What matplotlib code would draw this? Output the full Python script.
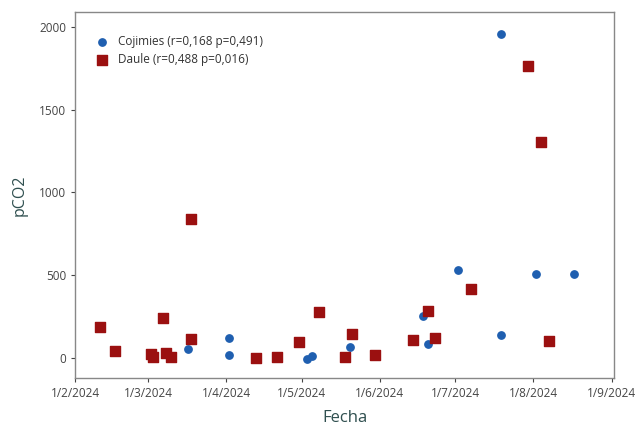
import matplotlib

matplotlib.use("Agg")
import matplotlib.pyplot as plt
import numpy as np

plt.rcParams["font.family"] = ["Open Sans", "DejaVu Sans"]

# Cojimies (blue)
coj_dates = ["2024-03-17", "2024-04-02", "2024-04-02", "2024-05-03", "2024-05-05",
             "2024-05-20", "2024-06-18", "2024-06-20", "2024-07-02", "2024-07-19",
             "2024-07-19", "2024-08-02", "2024-08-17"]
coj_pco2 = [54, 120, 18, -5, 12, 66, 253, 84, 530, 1958, 138, 506, 506]

# Daule (red)
dau_dates = ["2024-02-11", "2024-02-17", "2024-03-02", "2024-03-03", "2024-03-07",
             "2024-03-08", "2024-03-10", "2024-03-18", "2024-03-18", "2024-04-13",
             "2024-04-21", "2024-04-30", "2024-05-08", "2024-05-18", "2024-05-21",
             "2024-05-30", "2024-06-14", "2024-06-20", "2024-06-23", "2024-07-07",
             "2024-07-30", "2024-08-04", "2024-08-07"]
dau_pco2 = [190, 42, 24, 5, 241, 30, 5, 115, 837, 0, 5, 96, 277, 5, 145, 18,
            108, 283, 120, 416, 1765, 1307, 102]

x_ticks = ["2024-02-01", "2024-03-01", "2024-04-01", "2024-05-01", "2024-06-01",
           "2024-07-01", "2024-08-01", "2024-09-01"]
x_labels = ["1/2/2024", "1/3/2024", "1/4/2024", "1/5/2024", "1/6/2024",
            "1/7/2024", "1/8/2024", "1/9/2024"]
y_ticks = [0, 500, 1000, 1500, 2000]

fig = plt.figure(figsize=(6.37, 4.26), dpi=100)
ax = fig.add_axes([0.118, 0.113, 0.846, 0.859])

ax.scatter(np.array(coj_dates, dtype="datetime64[D]"), coj_pco2, marker="o", s=28,
           color="#1f5fb0", zorder=3, label="Cojimies (r=0,168 p=0,491)")
ax.scatter(np.array(dau_dates, dtype="datetime64[D]"), dau_pco2, marker="s", s=42,
           color="#9b1010", zorder=3, label="Daule (r=0,488 p=0,016)")

ax.set_xlim(np.datetime64("2024-02-01"), np.datetime64("2024-09-02"))
ax.set_ylim(-120, 2090)
ax.set_xticks(np.array(x_ticks, dtype="datetime64[D]"))
ax.set_xticklabels(x_labels)
ax.set_yticks(y_ticks)

label_col = "#2f4f4f"
ax.set_xlabel("Fecha", fontsize=12, color=label_col, labelpad=7)
ax.set_ylabel("pCO2", fontsize=11.5, color=label_col, labelpad=8)
ax.tick_params(labelsize=8.5, colors="#444444", length=3, width=0.8)
for sp in ax.spines.values():
    sp.set_color("#888888")
    sp.set_linewidth(1)

ax.legend(loc="upper left", bbox_to_anchor=(0.02, 0.95), borderaxespad=0,
          frameon=False, fontsize=8.5, handletextpad=0.3, labelspacing=0.45,
          labelcolor="#333333")

fig.savefig("out.png", dpi=100)
